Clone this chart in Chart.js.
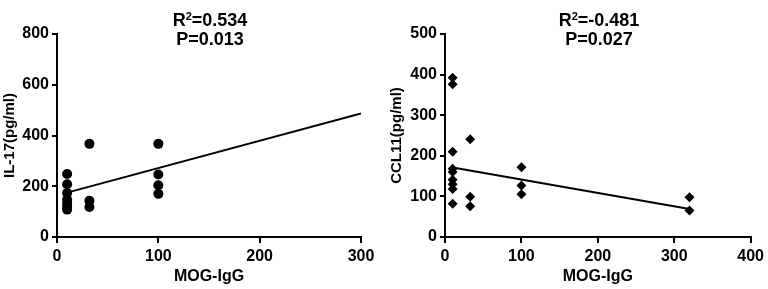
<!DOCTYPE html>
<html>
<head>
<meta charset="utf-8">
<script src="https://cdn.jsdelivr.net/npm/chart.js@4/dist/chart.umd.min.js"></script>
<style>
  html, body { margin: 0; padding: 0; background: #fff; }
  .row { display: flex; width: 768px; height: 289px; }
  .panel { position: relative; width: 384px; height: 289px; }
  .stat {
    position: absolute; top: 11px; width: 200px; text-align: center;
    font: bold 18px "Liberation Sans", Arial, sans-serif; line-height: 19px; color: #000;
  }
  .stat .sup { font-size: 11px; vertical-align: 6px; line-height: 0; }
</style>
</head>
<body>
<div class="row">
  <div class="panel">
    <canvas id="il17-chart" width="384" height="289"></canvas>
    <div class="stat" style="left:110px">R<span class="sup">2</span>=0.534<br>P=0.013</div>
  </div>
  <div class="panel">
    <canvas id="ccl11-chart" width="384" height="289"></canvas>
    <div class="stat" style="left:115px">R<span class="sup">2</span>=-0.481<br>P=0.027</div>
  </div>
</div>
<script>
// ==========================================
// DATA
// ==========================================
const il17X = [10, 10, 10, 10, 10, 10, 10, 32, 32, 32, 100, 100, 100, 100];
const il17Y = [248, 208, 173, 147, 132, 118, 108, 367, 143, 118, 367, 246, 204, 170];
const il17FitX = [10, 300];
const il17FitY = [175, 487];

const ccl11X = [10, 10, 10, 10, 10, 10, 10, 10, 10, 33, 33, 33, 100, 100, 100, 320, 320];
const ccl11Y = [392, 376, 210, 168, 160, 141, 130, 118, 82, 241, 99, 76, 172, 127, 105, 98, 65];
const ccl11FitX = [10, 320];
const ccl11FitY = [171, 69];

const FONT = '"Liberation Sans", Arial, sans-serif';

function toPoints(xs, ys) {
    return xs.map((x, i) => ({ x: x, y: ys[i] }));
}

// ==========================================
// SETUP CHART
// ==========================================
function makeChart(id, cfg) {
    const ctx = document.getElementById(id).getContext('2d');
    return new Chart(ctx, {
        type: 'scatter',
        data: {
            datasets: [
                { data: toPoints(cfg.xs, cfg.ys), backgroundColor: '#000', borderWidth: 0,
                  pointStyle: cfg.pointStyle, pointRadius: cfg.pointRadius, clip: false },
                { data: toPoints(cfg.fitX, cfg.fitY), showLine: true, borderColor: '#000', borderWidth: 2,
                  pointRadius: 0, fill: false, tension: 0 }
            ]
        },
        options: {
            responsive: false, animation: false,
            layout: { padding: { top: 34, right: cfg.padRight, left: 0, bottom: 0 } },
            plugins: { legend: { display: false }, tooltip: { enabled: false } },
            scales: {
                x: {
                    type: 'linear', min: 0, max: cfg.xMax,
                    ticks: { stepSize: 100, color: '#000', padding: 4, font: { family: FONT, size: 16, weight: 'bold' } },
                    grid: { display: true, drawOnChartArea: false, drawTicks: true, tickLength: 6, color: '#000', lineWidth: 2 },
                    border: { display: true, color: '#000', width: 2 },
                    title: { display: true, text: 'MOG-IgG', color: '#000', padding: { top: 0, bottom: 3 },
                             font: { family: FONT, size: 16, weight: 'bold' } },
                    afterFit: (s) => { s.height = 52; }
                },
                y: {
                    type: 'linear', min: 0, max: cfg.yMax,
                    ticks: { stepSize: cfg.yStep, color: '#000', padding: 3, font: { family: FONT, size: 16, weight: 'bold' } },
                    grid: { display: true, drawOnChartArea: false, drawTicks: true, tickLength: 5, color: '#000', lineWidth: 2 },
                    border: { display: true, color: '#000', width: 2 },
                    title: { display: true, text: cfg.yTitle, color: '#000', padding: { top: cfg.yTitlePad, bottom: 0 },
                             font: { family: FONT, size: 15, weight: 'bold' } },
                    afterFit: (s) => { s.width = cfg.yWidth; }
                }
            }
        }
    });
}

const il17Chart = makeChart('il17-chart', {
    xs: il17X, ys: il17Y, fitX: il17FitX, fitY: il17FitY,
    pointStyle: 'circle', pointRadius: 5,
    xMax: 300, yMax: 800, yStep: 200, yTitle: 'IL-17(pg/ml)',
    yWidth: 57, padRight: 23, yTitlePad: 1
});

const ccl11Chart = makeChart('ccl11-chart', {
    xs: ccl11X, ys: ccl11Y, fitX: ccl11FitX, fitY: ccl11FitY,
    pointStyle: 'rectRot', pointRadius: 5,
    xMax: 400, yMax: 500, yStep: 100, yTitle: 'CCL11(pg/ml)',
    yWidth: 61, padRight: 16, yTitlePad: 4
});
</script>
</body>
</html>
